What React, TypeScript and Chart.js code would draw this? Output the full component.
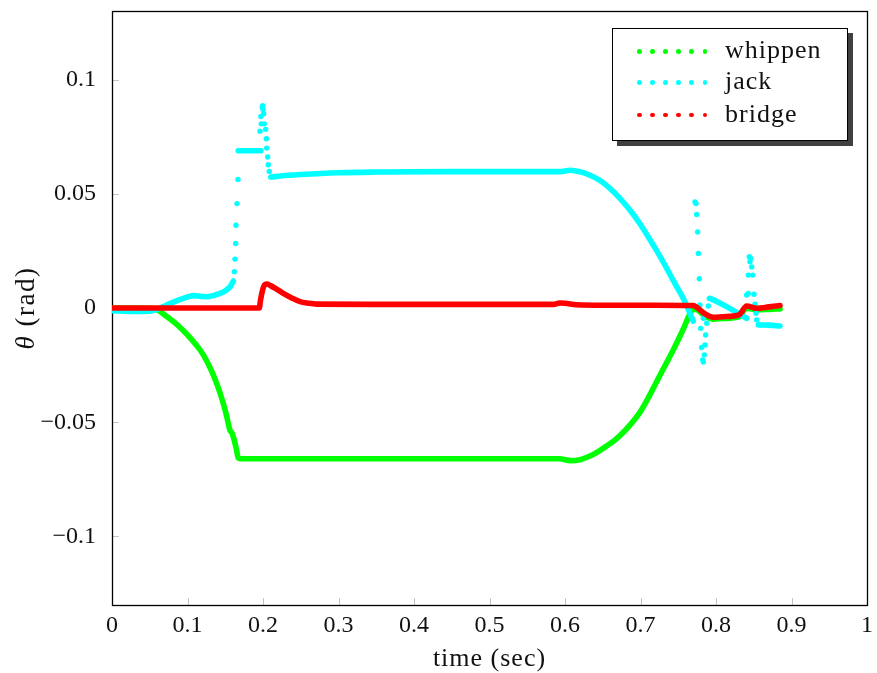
import React, { useEffect, useRef } from 'react';
import { Chart, registerables } from 'chart.js';

Chart.register(...registerables);

const FONT = '"Liberation Serif", "Times New Roman", serif';

// ---- axis ticks ----
const xTicks = [0, 0.1, 0.2, 0.3, 0.4, 0.5, 0.6, 0.7, 0.8, 0.9, 1];
const xTickLabels = ['0', '0.1', '0.2', '0.3', '0.4', '0.5', '0.6', '0.7', '0.8', '0.9', '1'];
const yTicks = [-0.1, -0.05, 0, 0.05, 0.1];
const yTickLabels = ['\u22120.1', '\u22120.05', '0', '0.05', '0.1'];
const xTitle = 'time (sec)';
const yTitleSymbol = '\u03b8';
const yTitleRest = ' (rad)';

// ---- series names / colours ----
const seriesNames = ['whippen', 'jack', 'bridge'];
const seriesColors = ['#00ff00', '#00ffff', '#ff0000'];

// ---- whippen (time, angle) ----
const whippenLine: [number, number][] = [
  [0, 0], [0.03, 0], [0.05, -0.0001], [0.06, -0.0008], [0.072, -0.0036], [0.083, -0.0064],
  [0.094, -0.0097], [0.105, -0.0136], [0.117, -0.0185], [0.126, -0.0235], [0.134, -0.0292],
  [0.141, -0.0352], [0.147, -0.0414], [0.152, -0.0475], [0.156, -0.0533], [0.159, -0.0548],
  [0.162, -0.058], [0.165, -0.0622], [0.167, -0.0655], [0.17, -0.066], [0.3, -0.066],
  [0.45, -0.066], [0.593, -0.066], [0.607, -0.0668], [0.62, -0.0664], [0.633, -0.0648],
  [0.645, -0.0626], [0.655, -0.0604], [0.666, -0.0578], [0.677, -0.0545], [0.688, -0.0505],
  [0.699, -0.0458], [0.71, -0.0395], [0.721, -0.0325], [0.732, -0.0255], [0.7435, -0.0183],
  [0.7567, -0.0092], [0.7656, -0.0025], [0.77, -0.0005], [0.775, -0.0008], [0.785, -0.0034],
  [0.7964, -0.0049], [0.81, -0.0046], [0.8305, -0.0039], [0.8406, -0.0001], [0.8539, -0.0008],
  [0.87, -0.0006], [0.8848, -0.0004],
];

// ---- jack ----
const jackStart: [number, number][] = [
  [0, -0.0012], [0.03, -0.0015], [0.05, -0.0014], [0.06, -0.0005], [0.0724, 0.0013],
  [0.083, 0.0028], [0.0944, 0.0042], [0.102, 0.005], [0.1077, 0.0054], [0.118, 0.0051],
  [0.1254, 0.0049], [0.135, 0.0055], [0.143, 0.0064], [0.15, 0.0075], [0.1563, 0.0093],
  [0.1607, 0.0118],
];
const jackRiseDots: [number, number][] = [
  [0.162, 0.0159], [0.1629, 0.0214], [0.1638, 0.0282], [0.1642, 0.0362], [0.1656, 0.0457],
  [0.1669, 0.0563],
];
const jackPlateau: [number, number][] = [[0.1672, 0.0688], [0.1972, 0.0688]];
const jackPeakDots: [number, number][] = [
  [0.196, 0.0774], [0.1977, 0.0806], [0.1972, 0.0838], [0.1991, 0.0879], [0.1995, 0.0886],
  [0.2, 0.0869], [0.2009, 0.085], [0.2017, 0.0806], [0.2035, 0.0782], [0.2044, 0.0741],
  [0.2049, 0.07], [0.2062, 0.0661], [0.207, 0.0627], [0.2083, 0.0598], [0.2102, 0.0573],
];
const jackMiddle: [number, number][] = [
  [0.2115, 0.0574], [0.22, 0.0577], [0.25, 0.0584], [0.3, 0.0592], [0.35, 0.0595],
  [0.45, 0.0597], [0.593, 0.0597], [0.607, 0.0603], [0.62, 0.0596], [0.633, 0.0581],
  [0.645, 0.0561], [0.655, 0.0537], [0.666, 0.0503], [0.677, 0.0464], [0.688, 0.042],
  [0.699, 0.037], [0.71, 0.0313], [0.721, 0.0253], [0.732, 0.019], [0.7435, 0.012],
  [0.7523, 0.0068], [0.7567, 0.0042], [0.7638, -0.001], [0.7699, -0.0058],
];
const jackOscDots: [number, number][] = [
  [0.7722, 0.0464], [0.7735, 0.0457], [0.7744, 0.0409], [0.7757, 0.0333], [0.7766, 0.0239],
  [0.7779, 0.0128], [0.7788, 0.0013], [0.7797, -0.0089], [0.781, -0.0173], [0.7824, -0.0227],
  [0.7832, -0.0236], [0.7845, -0.0205], [0.7854, -0.0162], [0.7863, -0.0118], [0.7877, -0.0067],
  [0.7832, -0.0045], [0.7898, 0.0009], [0.7911, 0.0042],
];
const jackLate: [number, number][] = [
  [0.7921, 0.0042], [0.805, 0.0022], [0.82, -0.0005], [0.83, -0.0025], [0.8406, -0.0045],
];
const jackTailDots: [number, number][] = [
  [0.8406, 0.0057], [0.8428, 0.0064], [0.8428, 0.0144], [0.8441, 0.0224], [0.845, 0.0202],
  [0.8459, 0.0217], [0.8473, 0.018], [0.8486, 0.0144], [0.8503, 0.006], [0.8517, 0.0017],
  [0.853, -0.0023], [0.8539, -0.0052],
];
const jackEnd: [number, number][] = [[0.8561, -0.0074], [0.87, -0.0075], [0.8848, -0.0079]];

// ---- bridge ----
const bridgeLine: [number, number][] = [
  [0, 0], [0.1, 0], [0.1951, 0], [0.1965, 0.003], [0.1985, 0.0065], [0.201, 0.0095],
  [0.2049, 0.0105], [0.21, 0.0098], [0.217, 0.0085], [0.2269, 0.0064], [0.238, 0.0044],
  [0.249, 0.0028], [0.26, 0.0021], [0.2711, 0.0017], [0.35, 0.0016], [0.45, 0.0016],
  [0.585, 0.0016], [0.593, 0.0022], [0.6, 0.0021], [0.615, 0.0014], [0.65, 0.0012],
  [0.72, 0.0012], [0.77, 0.0011], [0.775, 0.0002], [0.785, -0.0025], [0.7964, -0.0041],
  [0.81, -0.0038], [0.8305, -0.003], [0.8406, 0.0009], [0.8539, -0.0001], [0.87, 0.0005],
  [0.8848, 0.0011],
];

const toXY = (pts: [number, number][]) => pts.map(([x, y]) => ({ x, y }));
const joinSegments = (segs: [number, number][][]) =>
  segs.flatMap((s, i) =>
    i === 0 ? toXY(s) : [{ x: s[0][0], y: null as any }, ...toXY(s)]
  );

const lineDs = (data: any[], color: string, order: number) => ({
  data,
  showLine: true,
  borderColor: color,
  backgroundColor: color,
  borderWidth: 5.6,
  borderCapStyle: 'round',
  borderJoinStyle: 'round',
  pointRadius: 0,
  pointHoverRadius: 0,
  cubicInterpolationMode: 'monotone',
  spanGaps: false,
  order,
});
const dotDs = (data: any[], color: string, order: number) => ({
  data,
  showLine: false,
  borderColor: color,
  backgroundColor: color,
  borderWidth: 0,
  pointRadius: 2.7,
  pointHoverRadius: 2.7,
  order,
});

const framePlugin = {
  id: 'frame',
  beforeDatasetsDraw(chart: any) {
    const { ctx, chartArea: ca, scales } = chart;
    ctx.save();
    ctx.strokeStyle = '#c4c4c4';
    ctx.lineWidth = 1;
    ctx.beginPath();
    xTicks.forEach((v) => {
      const px = Math.round(scales.x.getPixelForValue(v)) + 0.5;
      ctx.moveTo(px, ca.bottom);
      ctx.lineTo(px, ca.bottom - 7);
    });
    yTicks.forEach((v) => {
      const py = Math.round(scales.y.getPixelForValue(v)) + 0.5;
      ctx.moveTo(ca.left, py);
      ctx.lineTo(ca.left + 7, py);
    });
    ctx.stroke();
    ctx.strokeStyle = '#000';
    ctx.lineWidth = 1.3;
    ctx.strokeRect(ca.left + 0.5, ca.top + 0.5, ca.right - ca.left, ca.bottom - ca.top);
    ctx.restore();
  },
  afterDraw(chart: any) {
    const { ctx, chartArea: ca } = chart;
    ctx.save();
    ctx.fillStyle = '#111';
    ctx.font = `26px ${FONT}`;
    (ctx as any).letterSpacing = '1px';
    ctx.textAlign = 'center';
    ctx.textBaseline = 'middle';
    ctx.fillText(xTitle, (ca.left + ca.right) / 2, 659);

    ctx.translate(27, (ca.top + ca.bottom) / 2);
    ctx.rotate(-Math.PI / 2);
    ctx.textAlign = 'left';
    (ctx as any).letterSpacing = '1.5px';
    ctx.font = `italic 27px ${FONT}`;
    const w1 = ctx.measureText(yTitleSymbol).width;
    ctx.font = `27px ${FONT}`;
    const w2 = ctx.measureText(yTitleRest).width;
    const start = -(w1 + w2) / 2;
    ctx.font = `italic 27px ${FONT}`;
    ctx.fillText(yTitleSymbol, start, 0);
    ctx.font = `27px ${FONT}`;
    ctx.fillText(yTitleRest, start + w1, 0);
    ctx.restore();
  },
};

export default function App() {
  const ref = useRef<HTMLCanvasElement>(null);

  useEffect(() => {
    const [gC, cC, rC] = seriesColors;
    const chart = new Chart(ref.current as HTMLCanvasElement, {
      type: 'scatter',
      data: {
        datasets: [
          lineDs(toXY(bridgeLine), rC, 0),
          lineDs(joinSegments([jackStart, jackPlateau, jackMiddle, jackLate, jackEnd]), cC, 1),
          dotDs(toXY([...jackRiseDots, ...jackPeakDots, ...jackOscDots, ...jackTailDots]), cC, 1),
          lineDs(toXY(whippenLine), gC, 2),
        ] as any,
      },
      options: {
        responsive: false,
        devicePixelRatio: 1,
        animation: false,
        events: [],
        layout: { padding: { left: 0, top: 11, right: 10, bottom: 0 } },
        plugins: { legend: { display: false }, tooltip: { enabled: false } },
        scales: {
          x: {
            type: 'linear',
            min: 0,
            max: 1,
            grid: { display: false },
            border: { display: false },
            afterBuildTicks: (s: any) => {
              s.ticks = xTicks.map((v) => ({ value: v }));
            },
            afterFit: (s: any) => {
              s.height = 68;
              s.paddingLeft = 0;
              s.paddingRight = 0;
            },
            ticks: {
              autoSkip: false,
              maxRotation: 0,
              padding: 1,
              color: '#111',
              font: { family: FONT, size: 24, lineHeight: 1 },
              callback: (_v: any, i: number) => xTickLabels[i],
            },
          },
          y: {
            type: 'linear',
            min: -0.13,
            max: 0.13,
            grid: { display: false },
            border: { display: false },
            afterBuildTicks: (s: any) => {
              s.ticks = yTicks.map((v) => ({ value: v }));
            },
            afterFit: (s: any) => {
              s.width = 112;
              s.paddingTop = 0;
              s.paddingBottom = 0;
            },
            ticks: {
              autoSkip: false,
              padding: 8,
              color: '#111',
              font: { family: FONT, size: 24 },
              callback: (_v: any, i: number) => yTickLabels[i],
            },
          },
        },
      } as any,
      plugins: [framePlugin],
    });
    return () => chart.destroy();
  }, []);

  const rowY = [23.7, 54.7, 87];
  return (
    <div style={{ position: 'absolute', left: 0, top: 0, width: 877, height: 673, background: '#fff' }}>
      <canvas ref={ref} width={877} height={673} style={{ display: 'block', width: 877, height: 673 }} />
      <div
        style={{
          position: 'absolute',
          left: 612,
          top: 28,
          width: 234,
          height: 111,
          border: '1px solid #000',
          background: '#fff',
          boxShadow: '5px 5px 0 #404040',
          fontFamily: FONT,
          fontSize: 26,
          letterSpacing: '1px',
          color: '#111',
        }}
      >
        {seriesNames.map((name, i) => (
          <React.Fragment key={name}>
            {[0, 1, 2, 3, 4, 5].map((k) => (
              <span
                key={k}
                style={{
                  position: 'absolute',
                  left: 26.3 + k * 13.1 - 2.3,
                  top: rowY[i] - 1 - 2.3,
                  width: 4.6,
                  height: 4.6,
                  borderRadius: '50%',
                  background: seriesColors[i],
                }}
              />
            ))}
            <span
              style={{
                position: 'absolute',
                left: 112,
                top: rowY[i] - 1 - 14.3,
                lineHeight: '26px',
                whiteSpace: 'nowrap',
              }}
            >
              {name}
            </span>
          </React.Fragment>
        ))}
      </div>
    </div>
  );
}
